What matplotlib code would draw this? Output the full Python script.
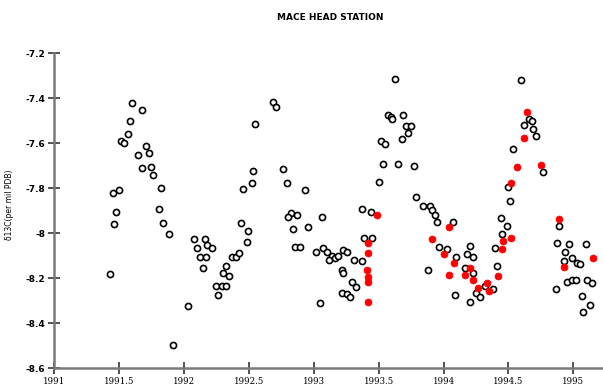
import matplotlib
matplotlib.use("Agg")
import matplotlib.pyplot as plt

# Open circles (all samples)
open_year = [
    1991.429, 1991.450, 1991.501, 1991.476, 1991.462, 1991.512, 1991.537, 1991.570,
    1991.583, 1991.597, 1991.678, 1991.707, 1991.730, 1991.647, 1991.674, 1991.743,
    1991.758, 1991.822, 1991.809, 1991.840, 1991.886, 1991.913, 1992.028, 1992.079,
    1992.161, 1992.097, 1992.179, 1992.213, 1992.123, 1992.173, 1992.144, 1992.246,
    1992.289, 1992.327, 1992.258, 1992.326, 1992.299, 1992.349, 1992.370, 1992.397,
    1992.427, 1992.437, 1992.495, 1992.487, 1992.457, 1992.521, 1992.534, 1992.547,
    1992.682, 1992.706, 1992.765, 1992.791, 1992.822, 1992.805, 1992.874, 1992.837,
    1992.855, 1992.897, 1992.936, 1992.958, 1993.061, 1993.017, 1993.069, 1993.099,
    1993.138, 1993.119, 1993.163, 1993.189, 1993.223, 1993.254, 1993.310, 1993.369,
    1993.215, 1993.227, 1993.292, 1993.325, 1993.215, 1993.254, 1993.279, 1993.048,
    1993.369, 1993.439, 1993.389, 1993.446, 1993.503, 1993.536, 1993.647, 1993.775,
    1993.516, 1993.549, 1993.678, 1993.728, 1993.711, 1993.749, 1993.570, 1993.593,
    1993.600, 1993.690, 1993.626, 1993.788, 1993.844, 1993.896, 1993.909, 1993.934,
    1993.947, 1994.075, 1993.967, 1994.024, 1994.096, 1993.882, 1994.204, 1994.178,
    1994.225, 1994.165, 1994.229, 1994.088, 1994.204, 1994.250, 1994.281, 1994.320,
    1994.379, 1994.397, 1994.410, 1994.448, 1994.441, 1994.487, 1994.512, 1994.499,
    1994.537, 1994.620, 1994.661, 1994.679, 1994.692, 1994.713, 1994.595, 1994.764,
    1994.892, 1994.872, 1994.969, 1995.098, 1994.936, 1994.931, 1994.988, 1995.026,
    1995.052, 1994.949, 1994.988, 1995.021, 1995.108, 1995.142, 1994.867, 1995.065,
    1995.129, 1995.072,
]
open_d13c = [
    -8.181, -7.819, -7.809, -7.903, -7.960, -7.588, -7.599, -7.559,
    -7.500, -7.421, -7.451, -7.611, -7.644, -7.651, -7.710, -7.703,
    -7.740, -7.799, -7.892, -7.955, -8.004, -8.496, -8.325, -8.024,
    -8.024, -8.066, -8.051, -8.066, -8.103, -8.104, -8.155, -8.236,
    -8.236, -8.236, -8.273, -8.144, -8.176, -8.189, -8.107, -8.104,
    -8.087, -7.955, -7.988, -8.039, -7.804, -7.774, -7.724, -7.515,
    -7.416, -7.440, -7.715, -7.774, -7.908, -7.929, -7.917, -7.981,
    -8.059, -8.059, -7.807, -7.970, -7.925, -8.085, -8.066, -8.085,
    -8.100, -8.118, -8.110, -8.100, -8.076, -8.085, -8.118, -8.125,
    -8.162, -8.177, -8.214, -8.239, -8.266, -8.269, -8.284, -8.308,
    -7.891, -7.903, -8.021, -8.021, -7.770, -7.691, -7.691, -7.700,
    -7.588, -7.602, -7.581, -7.552, -7.522, -7.522, -7.473, -7.484,
    -7.492, -7.473, -7.313, -7.839, -7.878, -7.878, -7.896, -7.918,
    -7.948, -7.948, -8.061, -8.070, -8.103, -8.162, -8.056, -8.091,
    -8.103, -8.155, -8.177, -8.273, -8.303, -8.263, -8.281, -8.236,
    -8.248, -8.066, -8.144, -8.004, -7.932, -7.967, -7.854, -7.795,
    -7.626, -7.518, -7.492, -7.499, -7.537, -7.567, -7.318, -7.725,
    -7.967, -8.041, -8.047, -8.047, -8.085, -8.121, -8.110, -8.130,
    -8.136, -8.214, -8.207, -8.207, -8.207, -8.219, -8.247, -8.278,
    -8.318, -8.348,
]

# Red filled points
red_year = [
    1993.489, 1993.420, 1993.420, 1993.412, 1993.420, 1993.415, 1993.420,
    1994.044, 1993.909, 1994.006, 1994.083, 1994.044, 1994.204, 1994.165,
    1994.229, 1994.268, 1994.333, 1994.353, 1994.448, 1994.456, 1994.518,
    1994.422, 1994.518, 1994.564, 1994.622, 1994.645, 1994.749, 1994.892,
    1994.928, 1995.154,
]
red_d13c = [
    -7.918, -8.044, -8.088, -8.162, -8.192, -8.214, -8.303,
    -7.972, -8.026, -8.091, -8.132, -8.184, -8.155, -8.184,
    -8.207, -8.244, -8.221, -8.256, -8.070, -8.032, -8.021,
    -8.189, -7.774, -7.706, -7.577, -7.459, -7.696, -7.937,
    -8.150, -8.110,
]

x_ticks = [1991, 1991.5, 1992, 1992.5, 1993, 1993.5, 1994, 1994.5, 1995]
x_ticklabels = ["1991", "1991.5", "1992", "1992.5", "1993", "1993.5", "1994", "1994.5", "1995"]
y_ticks = [-7.2, -7.4, -7.6, -7.8, -8.0, -8.2, -8.4, -8.6]
y_ticklabels = ["-7.2", "-7.4", "-7.6", "-7.8", "-8", "-8.2", "-8.4", "-8.6"]

W, H = 603, 389
fig = plt.figure(figsize=(W / 100, H / 100), dpi=100)
ax = fig.add_axes([54.3 / W, 20.7 / H, (W - 54.3) / W, 314.8 / H])
ax.set_xlim(1991, 1995.229)
ax.set_ylim(-8.6, -7.2)

ax.plot(open_year, open_d13c, linestyle="none", marker="o", ms=4.4,
        mfc="white", mec="black", mew=1.2, zorder=3)
ax.plot(red_year, red_d13c, linestyle="none", marker="o", ms=5.0,
        mfc="#ff0000", mec="#ff0000", mew=0.5, zorder=4)

for s in ["top", "right"]:
    ax.spines[s].set_visible(False)
for s in ["left", "bottom"]:
    ax.spines[s].set_color("#7a7a7a")
    ax.spines[s].set_linewidth(1.8)

ax.set_xticks(x_ticks)
ax.set_xticklabels(x_ticklabels, family="DejaVu Serif", fontsize=6.2)
ax.set_yticks(y_ticks)
ax.set_yticklabels(y_ticklabels, fontsize=6.5, fontweight="bold")
ax.tick_params(axis="both", direction="inout", length=9, width=1.2, color="#333333")
ax.tick_params(axis="y", pad=2)
ax.tick_params(axis="x", pad=2)

ax.set_ylabel("δ13C(per mil PDB)", fontsize=5.5)
ax.yaxis.set_label_coords((14 - 54.3) / (W - 54.3), (368.3 - 205) / 314.8)

fig.text(330 / W, 1 - 18 / H, "MACE HEAD STATION", ha="center", va="center",
         fontsize=6.5, fontweight="bold")

fig.savefig("out.png", dpi=100)
